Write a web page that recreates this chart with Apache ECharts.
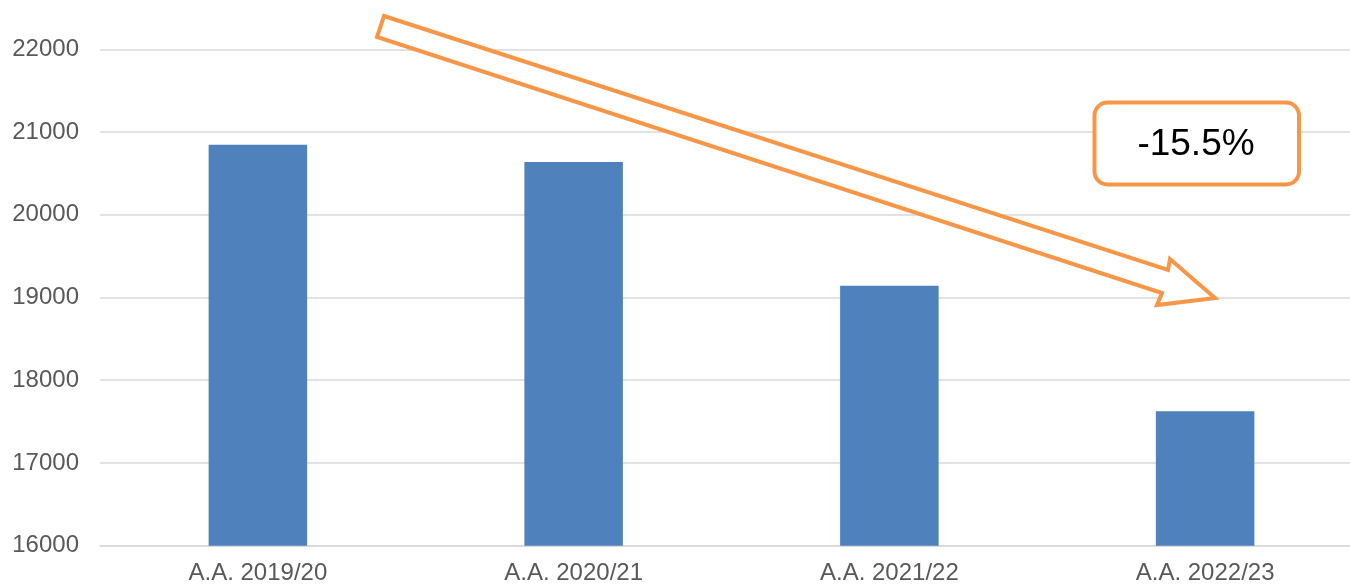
<!DOCTYPE html>
<html>
<head>
<meta charset="utf-8">
<script src="https://cdn.jsdelivr.net/npm/echarts@6/dist/echarts.min.js"></script>
<style>
html,body{margin:0;padding:0;background:#fff;overflow:hidden;width:1350px;height:586px;}
#chart{width:1363px;height:586px;}
</style>
</head>
<body>
<div id="chart"></div>
<script>
const categories = ['A.A. 2019/20', 'A.A. 2020/21', 'A.A. 2021/22', 'A.A. 2022/23'];
const values = [20847, 20637, 19141, 17624];
const yMin = 16000;
const yMax = 22000;
const yStep = 1000;
const changeLabel = '-15.5%';

const FONT = '"Liberation Sans", Arial, sans-serif';
const ORANGE = '#F79646';

const chart = echarts.init(document.getElementById('chart'), null, {renderer: 'canvas'});
chart.setOption({
  animation: false,
  backgroundColor: '#ffffff',
  grid: {left: 100, top: 49.3, right: 0, bottom: 40.3, containLabel: false},
  xAxis: {
    type: 'category',
    data: categories,
    axisLine: {show: true, lineStyle: {color: '#D9D9D9', width: 1.5}},
    axisTick: {show: false},
    axisLabel: {color: '#595959', fontSize: 24, fontFamily: FONT, margin: 16, interval: 0}
  },
  yAxis: {
    type: 'value',
    min: yMin,
    max: yMax,
    interval: yStep,
    axisLine: {show: false},
    axisTick: {show: false},
    splitLine: {lineStyle: {color: '#D9D9D9', width: 1.5}},
    axisLabel: {color: '#595959', fontSize: 24, fontFamily: FONT, margin: 21, formatter: function (v) { return String(v); }}
  },
  series: [{
    type: 'bar',
    data: values,
    barWidth: 98.5,
    itemStyle: {color: '#4F81BD'}
  }],
  graphic: [
    {
      type: 'polygon',
      z: 100,
      shape: {points: [[384, 16], [1168, 270], [1170, 259], [1215, 298], [1157, 305], [1162, 293], [377, 37]]},
      style: {fill: '#ffffff', stroke: ORANGE, lineWidth: 4, lineJoin: 'miter'}
    },
    {
      type: 'rect',
      z: 100,
      shape: {x: 1094.5, y: 102.5, width: 204.5, height: 82, r: 13},
      style: {fill: '#ffffff', stroke: ORANGE, lineWidth: 4}
    },
    {
      type: 'text',
      z: 101,
      x: 1196, y: 145,
      style: {text: changeLabel, fill: '#000000', font: '37px ' + FONT, textAlign: 'center', textVerticalAlign: 'middle'}
    }
  ]
});
</script>
</body>
</html>
